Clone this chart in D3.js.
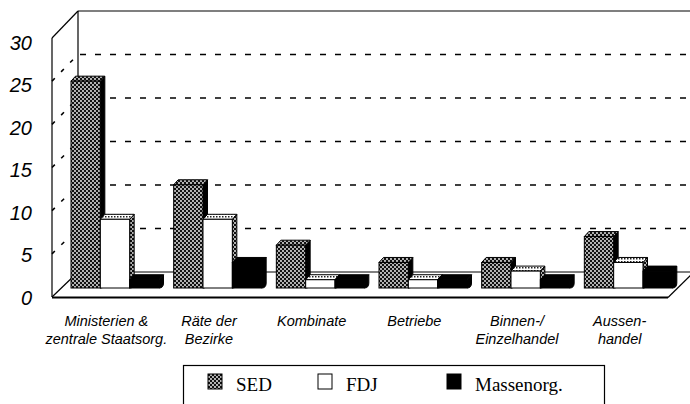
<!DOCTYPE html>
<html>
<head>
<meta charset="utf-8">
<script src="https://cdn.jsdelivr.net/npm/d3@7"></script>
<style>
  body { margin: 0; background: #fff; }
  svg { display: block; }
</style>
</head>
<body>
<script>
// chart data
var categories = ["Ministerien & zentrale Staatsorg.", "Räte der Bezirke", "Kombinate", "Betriebe", "Binnen-/Einzelhandel", "Aussenhandel"];
var categoryLines = [["Ministerien &", "zentrale Staatsorg."], ["Räte der", "Bezirke"], ["Kombinate"], ["Betriebe"], ["Binnen-/", "Einzelhandel"], ["Aussen-", "handel"]];
var seriesNames = ["SED", "FDJ", "Massenorg."];
var sedValues = [25, 13, 6, 4, 4, 7];
var fdjValues = [9, 9, 2, 2, 3, 4];
var massValues = [2, 4, 2, 2, 2, 3];
var yTicks = [0, 5, 10, 15, 20, 25, 30];

var width = 690, height = 404;

var svg = d3.select("body").append("svg")
  .attr("width", width)
  .attr("height", height);

// patterns
var defs = svg.append("defs");
var pat = defs.append("pattern")
  .attr("id", "sedPat")
  .attr("patternUnits", "userSpaceOnUse")
  .attr("width", 4).attr("height", 4);
pat.append("rect").attr("width", 4).attr("height", 4).attr("fill", "#111");
pat.append("circle").attr("cx", 1).attr("cy", 1).attr("r", 0.9).attr("fill", "#fff");
pat.append("circle").attr("cx", 3).attr("cy", 3).attr("r", 0.9).attr("fill", "#fff");

var pat2 = defs.append("pattern")
  .attr("id", "capPat")
  .attr("patternUnits", "userSpaceOnUse")
  .attr("width", 3).attr("height", 3);
pat2.append("rect").attr("width", 3).attr("height", 3).attr("fill", "#fff");
pat2.append("rect").attr("width", 1.5).attr("height", 1.5).attr("fill", "#222");

// scales: front plane / back wall (3d look)
var xLeft = 52, xRight = 668;
var depth = {x: 26, y: -25};
var x = d3.scaleBand().domain(categories).range([xLeft, xRight]);
var xSub = d3.scaleBand().domain(seriesNames).range([0, 88]);
var yFront = d3.scaleLinear().domain([0, 30]).range([297, 38]);
var yBack = d3.scaleLinear().domain([0, 30]).range([272, 11]);
var yLabel = d3.scaleLinear().domain([0, 30]).range([298, 43]);

var g = svg.append("g");

// back wall
g.append("line").attr("x1", xLeft + depth.x).attr("x2", width)
  .attr("y1", yBack(30)).attr("y2", yBack(30))
  .attr("stroke", "#000").attr("stroke-width", 1.2);
g.append("line").attr("x1", xLeft + depth.x).attr("x2", xLeft + depth.x)
  .attr("y1", yBack(30)).attr("y2", yBack(0))
  .attr("stroke", "#000").attr("stroke-width", 1.2);
g.append("line").attr("x1", xLeft + depth.x).attr("x2", width)
  .attr("y1", yBack(0)).attr("y2", yBack(0))
  .attr("stroke", "#000").attr("stroke-width", 1.2);

// gridlines: dashed on back wall and side wall
var grid = yTicks.filter(function(d) { return d > 0 && d < 30; });
g.selectAll(".gridBack").data(grid).enter().append("line")
  .attr("x1", xLeft + depth.x + 2).attr("x2", width)
  .attr("y1", function(d) { return yBack(d); })
  .attr("y2", function(d) { return yBack(d); })
  .attr("stroke", "#000").attr("stroke-width", 1.6)
  .attr("stroke-dasharray", "6,9");
g.selectAll(".gridSide").data(grid).enter().append("line")
  .attr("x1", xLeft).attr("x2", xLeft + depth.x)
  .attr("y1", function(d) { return yFront(d); })
  .attr("y2", function(d) { return yBack(d); })
  .attr("stroke", "#000").attr("stroke-width", 1.6)
  .attr("stroke-dasharray", "4,9");

// side wall edges
g.append("line").attr("x1", xLeft).attr("x2", xLeft)
  .attr("y1", yFront(30)).attr("y2", yFront(0))
  .attr("stroke", "#000").attr("stroke-width", 1.2);
g.append("line").attr("x1", xLeft).attr("x2", xLeft + depth.x)
  .attr("y1", yFront(30)).attr("y2", yBack(30))
  .attr("stroke", "#000").attr("stroke-width", 1.2);
g.append("line").attr("x1", xLeft).attr("x2", xLeft + depth.x)
  .attr("y1", yFront(0)).attr("y2", yBack(0))
  .attr("stroke", "#000").attr("stroke-width", 1.2);

// floor front edge + right diagonal
g.append("line").attr("x1", xLeft).attr("x2", xRight)
  .attr("y1", yFront(0) + 0.5).attr("y2", yFront(0) + 0.5)
  .attr("stroke", "#000").attr("stroke-width", 2.2);
g.append("line").attr("x1", xRight).attr("x2", xRight + depth.x)
  .attr("y1", yFront(0) + 0.5).attr("y2", yBack(0))
  .attr("stroke", "#000").attr("stroke-width", 1.2);

// bars
var barData = [];
categories.forEach(function(c, i) {
  barData.push({cat: c, s: "SED", v: sedValues[i]});
  barData.push({cat: c, s: "FDJ", v: fdjValues[i]});
  barData.push({cat: c, s: "Massenorg.", v: massValues[i]});
});

var bw = xSub.bandwidth();
var bd = {x: 4.5, y: -5};
var barBottom = yFront(0) - 9;

var bars = g.selectAll(".bar").data(barData).enter().append("g").attr("class", "bar");

bars.each(function(d) {
  var sel = d3.select(this);
  var x0 = x(d.cat) + 19 + xSub(d.s);
  var yt = yFront(d.v);
  var front = d.s == "SED" ? "url(#sedPat)" : (d.s == "FDJ" ? "#fff" : "#000");
  var side = d.s == "FDJ" ? "url(#sedPat)" : "#000";
  var top = d.s == "FDJ" ? "url(#capPat)" : front;
  // side face
  sel.append("path")
    .attr("d", "M" + (x0 + bw) + "," + yt + " L" + (x0 + bw + bd.x) + "," + (yt + bd.y) +
      " L" + (x0 + bw + bd.x) + "," + (barBottom + bd.y) + " Q" + (x0 + bw + bd.x) + "," + barBottom +
      " " + (x0 + bw) + "," + barBottom + " Z")
    .attr("fill", side).attr("stroke", "#000").attr("stroke-width", 1);
  // top face
  sel.append("path")
    .attr("d", "M" + x0 + "," + yt + " L" + (x0 + bd.x) + "," + (yt + bd.y) +
      " L" + (x0 + bw + bd.x) + "," + (yt + bd.y) + " L" + (x0 + bw) + "," + yt + " Z")
    .attr("fill", top).attr("stroke", "#000").attr("stroke-width", 1);
  // front face
  sel.append("rect")
    .attr("x", x0).attr("y", yt)
    .attr("width", bw).attr("height", Math.max(0, barBottom - yt))
    .attr("fill", front).attr("stroke", "#000").attr("stroke-width", 1);
});

// y tick labels
var yAxis = g.append("g")
  .attr("transform", "translate(" + xLeft + ",0)")
  .call(d3.axisLeft(yLabel).tickValues(yTicks).tickSize(0).tickPadding(20));
yAxis.select(".domain").remove();
yAxis.selectAll("text")
  .attr("font-family", "'Liberation Sans', Arial, sans-serif")
  .attr("font-size", 20)
  .attr("font-style", "italic")
  .attr("fill", "#000");

// category labels
var labels = g.selectAll(".catLabel").data(categories).enter().append("text")
  .attr("class", "catLabel")
  .attr("text-anchor", "middle")
  .attr("font-family", "'Liberation Sans', Arial, sans-serif")
  .attr("font-size", 14.5)
  .attr("font-style", "italic")
  .attr("fill", "#000");
labels.each(function(d, i) {
  var t = d3.select(this);
  categoryLines[i].forEach(function(line, j) {
    t.append("tspan")
      .attr("x", x(d) + x.bandwidth() / 2 + 3)
      .attr("y", 326 + j * 18)
      .text(line);
  });
});

// legend
var legend = svg.append("g");
legend.append("rect")
  .attr("x", 183.5).attr("y", 365.5)
  .attr("width", 421).attr("height", 50)
  .attr("fill", "#fff").attr("stroke", "#000").attr("stroke-width", 1.2);
var legX = [208, 318, 447];
var legFill = ["url(#sedPat)", "#fff", "#000"];
seriesNames.forEach(function(s, i) {
  legend.append("rect")
    .attr("x", legX[i]).attr("y", 374)
    .attr("width", 14).attr("height", 15)
    .attr("fill", legFill[i]).attr("stroke", "#000").attr("stroke-width", 1);
  legend.append("text")
    .attr("x", legX[i] + 28).attr("y", 391)
    .attr("font-family", "'Liberation Serif', 'Times New Roman', serif")
    .attr("font-size", 19)
    .attr("fill", "#000")
    .text(s);
});
</script>
</body>
</html>
